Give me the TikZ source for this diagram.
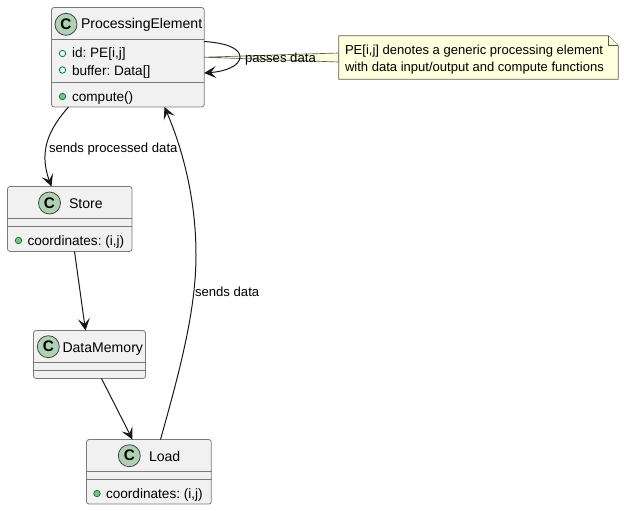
\documentclass[tikz,border=0pt]{standalone}
\usepackage{fontspec}
\setmainfont{Liberation Sans}
\frenchspacing
\usetikzlibrary{calc,arrows.meta}
\definecolor{boxfill}{HTML}{F1F1F1}
\definecolor{boxline}{HTML}{7A7A7A}
\definecolor{spot}{HTML}{ADD1B2}
\definecolor{vis}{HTML}{038048}
\definecolor{visfill}{HTML}{84BE84}
\definecolor{notefill}{HTML}{FEFFDD}
\definecolor{noteline}{HTML}{5E5E50}
\definecolor{ink}{HTML}{181818}
\tikzset{
  x=0.75pt,y=-0.75pt,
  classbox/.style={draw=boxline,fill=boxfill,rounded corners=1.9pt,line width=0.6pt,inner sep=0pt,outer sep=0pt,minimum width=#1,anchor=north west},
  txt/.style={font=\fontsize{10.2pt}{12pt}\selectfont,text=black,inner sep=0pt,outer sep=0pt},
  member/.style={txt,anchor=base west},
  title/.style={txt,anchor=base west,font=\fontsize{10.55pt}{12pt}\selectfont},
  sep/.style={draw=boxline,line width=0.6pt},
  cbadge/.style={circle,draw=ink!80,fill=spot,line width=0.6pt,minimum size=16.5pt,inner sep=0pt,font=\bfseries\fontsize{11.5pt}{12pt}\selectfont,text=black},
  rel/.style={draw=ink,line width=0.75pt,-{Stealth[length=9pt,width=9pt,inset=4pt]}},
  opendot/.style={circle,draw=vis,fill=none,line width=0.6pt,minimum size=4.8pt,inner sep=0pt},
  fulldot/.style={circle,draw=vis,fill=visfill,line width=0.6pt,minimum size=4.8pt,inner sep=0pt},
  lbl/.style={txt,anchor=base west,font=\fontsize{9.85pt}{11pt}\selectfont},
  notetxt/.style={txt,anchor=base west,font=\fontsize{9.78pt}{11pt}\selectfont},
}
\begin{document}
\begin{tikzpicture}
\useasboundingbox (0,0) rectangle (624,510);
% boxes
\node[classbox=114.5pt,minimum height=74.6pt] (pe) at (51.5,7.5) {};
\node[classbox=93.4pt,minimum height=48.7pt] (store) at (7.5,186.5) {};
\node[classbox=84pt,minimum height=36pt] (dm) at (33.5,330.5) {};
\node[classbox=93.6pt,minimum height=48.4pt] (load) at (86.5,439.5) {};
% separators
\draw[sep] (51.5,39.5) -- (204,39.5) (51.5,82.5) -- (204,82.5);
\draw[sep] (7.5,218.5) -- (132,218.5) (7.5,226) -- (132,226);
\draw[sep] (33.5,362.5) -- (145.5,362.5) (33.5,370.5) -- (145.5,370.5);
\draw[sep] (86.5,471) -- (211.5,471) (86.5,479.5) -- (211.5,479.5);
% badges and titles
\node[cbadge] (cpe) at (66,24.3) {C};
\node[title] (tpe) at (81,29) {ProcessingElement};
\node[cbadge] (cst) at (49.5,203) {C};
\node[title] (tst) at (69,208) {Store};
\node[cbadge] (cdm) at (48.3,346.7) {C};
\node[title] (tdm) at (62.5,352) {DataMemory};
\node[cbadge] (clo) at (129.3,455.7) {C};
\node[title] (tlo) at (149,461) {Load};
% members
\node[opendot] (d1) at (62.5,53.5) {};
\node[member] (m1) at (72,58) {id: PE[i,j]};
\node[opendot] (d2) at (62.5,70) {};
\node[member] (m2) at (72,75) {buffer: Data[]};
\node[fulldot] (d3) at (62.5,96.5) {};
\node[member] (m3) at (72,101) {compute()};
\node[fulldot] (d4) at (18.5,240.5) {};
\node[member] (m4) at (27.5,245) {coordinates: (i,j)};
\node[fulldot] (d5) at (97,493.5) {};
\node[member] (m5) at (106,498) {coordinates: (i,j)};
% note
\path (478.5,57.5) node[inner sep=0pt,minimum width=209.25pt,minimum height=32.25pt] (note) {};
\draw[draw=noteline,fill=notefill,line width=0.5pt] (pe.east) -- ($(note.west)+(0,-4.5)$) -- ($(note.west)+(0,4.5)$) -- cycle;
\draw[draw=noteline,fill=notefill,line width=0.5pt] (note.north west) -- ($(note.north east)+(-10,0)$) -- ($(note.north east)+(0,10)$) -- (note.south east) -- (note.south west) -- cycle;
\draw[draw=noteline,fill=notefill,line width=0.5pt] ($(note.north east)+(-10,0)$) -- ($(note.north east)+(-10,10)$) -- ($(note.north east)+(0,10)$);
\node[notetxt] (n1) at (345,55) {PE[i,j] denotes a generic processing element};
\node[notetxt] (n2) at (345,71.5) {with data input/output and compute functions};
% connectors
\draw[rel] ($(pe.north east)+(0,34)$) .. controls (228,43) and (240,49) .. (240,57) .. controls (240,66) and (225,71.5) .. ($(pe.north east)+(0,65.5)$);
\draw[rel] ($(pe.south west)+(17,0)$) .. controls (50,128) and (38,150) .. ($(store.north west)+(44,0)$);
\draw[rel] ($(store.south west)+(67,0)$) -- ($(dm.north west)+(52,0)$);
\draw[rel] ($(dm.south west)+(68,0)$) -- ($(load.north west)+(46,0)$);
\draw[rel] ($(load.north west)+(74,0)$) .. controls (180,370) and (196,310) .. (196,255) .. controls (196,200) and (183,150) .. ($(pe.south west)+(113,0)$);
% labels
\node[lbl] (l1) at (245,63) {passes data};
\node[lbl] (l2) at (49,152) {sends processed data};
\node[lbl] (l3) at (195,296) {sends data};
\end{tikzpicture}
\end{document}
